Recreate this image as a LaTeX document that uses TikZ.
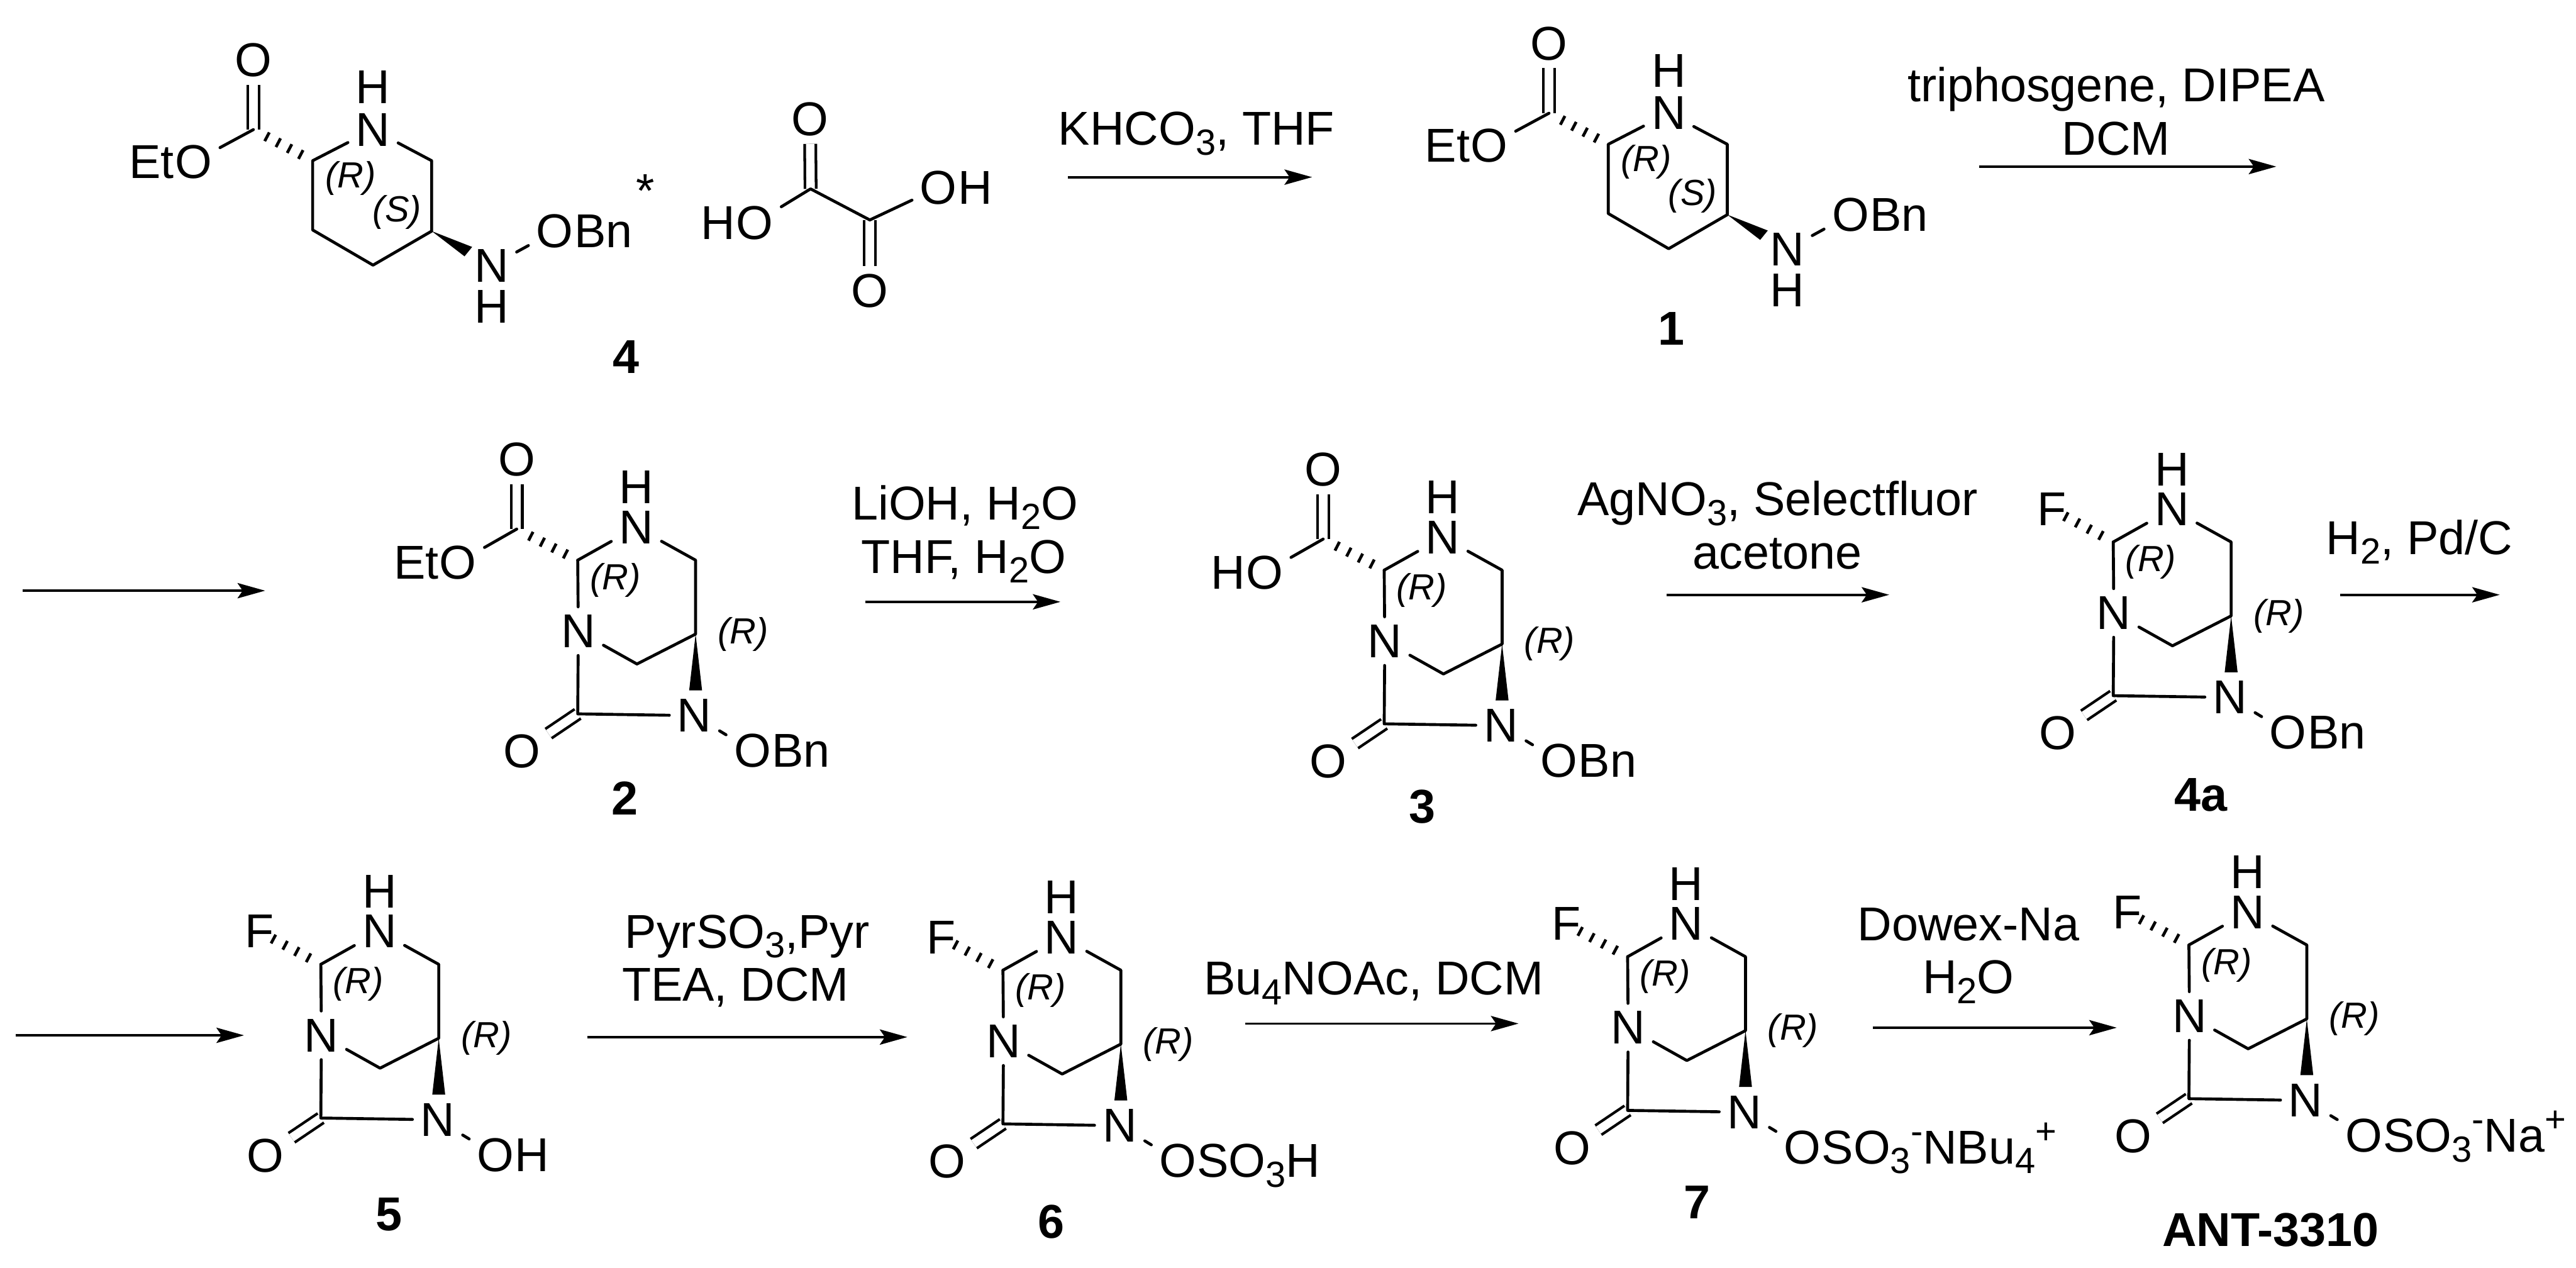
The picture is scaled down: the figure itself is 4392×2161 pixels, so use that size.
\documentclass[tikz,border=0pt]{standalone}
\usepackage{fontspec}
\setmainfont{Liberation Sans}
\usetikzlibrary{calc,arrows.meta}
\newcommand\subsc[1]{\raisebox{-4.2pt}{\fontsize{15.5}{16}\selectfont #1}}
\newcommand\supsc[1]{\raisebox{8.5pt}{\fontsize{15.5}{16}\selectfont #1}}
\tikzset{
  every node/.style={font=\fontsize{20.25}{24}\selectfont},
  atom/.style={inner sep=3.2pt},
  tailtext/.style={inner sep=0pt,anchor=base west,xshift=-3.2pt},
  headtext/.style={inner sep=0pt,anchor=base east,xshift=3.2pt},
  stereo/.style={inner sep=0pt,font=\fontsize{15.5}{18}\selectfont\itshape},
  cpd/.style={inner sep=0pt,font=\fontsize{20.25}{24}\selectfont\bfseries},
  reagent/.style={inner sep=0pt,anchor=base},
  bond/.style={line width=1.25pt,line join=round,line cap=round},
  dbond/.style={line width=1.15pt,double,double distance=3.6pt,line cap=butt},
  hashbar/.style={line width=1.25pt},
  rxn/.style={line width=1pt,-{Stealth[length=11.75pt,width=6.5pt,inset=2.2pt]}}
}
\newcommand\hashes[3]{% from, to, name prefix
  \foreach \f in {0.2,0.39,0.58,0.77}{
    \coordinate (hp) at ($(#1)!\f!(#2)$);
    \draw[hashbar] ($(hp)!2.1pt!90:(#2)$) -- ($(hp)!2.1pt!-90:(#2)$);
  }}
% bicyclic core: prefix, X, Y, text after the N-oxygen, substituent code
\newcommand\bicy[5]{
\begin{scope}[shift={(#2,#3)}]
  \node[atom] (#1-N4) at (0,0) {N};
  \node[atom] (#1-H) at (0,-68) {H};
  \coordinate (#1-Ca) at (-100,56);
  \coordinate (#1-Cb) at (101,56);
  \coordinate (#1-C5) at (101,182);
  \node[atom] (#1-N1) at (-99,177) {N};
  \coordinate (#1-Br) at (1,233);
  \coordinate (#1-CO) at (-100,318);
  \node[atom] (#1-N6) at (99,321) {N};
  \node[atom] (#1-Ok) at (-195,382) {O};
  \node[atom] (#1-O) at (198,381) {O};
  \node[tailtext] (#1-tail) at (#1-O.base east) {#4};
  \node[stereo] (#1-R1) at (-36,90) {(R)};
  \node[stereo] (#1-R2) at (182,182) {(R)};
  \draw[dbond] (#1-CO) -- (#1-Ok);
  \draw[bond] (#1-Ca) -- (#1-N4);
  \draw[bond] (#1-N4) -- (#1-Cb) -- (#1-C5) -- (#1-Br) -- (#1-N1);
  \draw[bond] (#1-Ca) -- (#1-N1);
  \draw[bond] (#1-N1) -- (#1-CO) -- (#1-N6);
  \draw[bond] (#1-N6) -- (#1-O);
  \coordinate (#1-wa) at (90,278);
  \coordinate (#1-wb) at (112,278);
  \fill (#1-C5) -- (#1-wa) -- (#1-wb) -- cycle;
  #5
\end{scope}}
\newcommand\esub[2]{
  \coordinate (#1-Ce) at (-204,3);
  \node[atom] (#1-Od) at (-204,-116) {O};
  \node[atom] (#1-Oe) at (-304,60) {O};
  \node[headtext] (#1-head) at (#1-Oe.base west) {#2};
  \draw[dbond] (#1-Ce) -- (#1-Od);
  \draw[bond] (#1-Ce) -- (#1-Oe);
  \hashes{#1-Ca}{#1-Ce}{#1}
}
\newcommand\fsub[1]{
  \node[atom] (#1-F) at (-205,0) {F};
  \hashes{#1-Ca}{#1-F}{#1}
}
% piperidine: prefix, dX, dY
\newcommand\pipe[3]{
\begin{scope}[shift={(#2,#3)}]
  \coordinate (#1-Ce) at (432,221);
  \node[atom] (#1-Od) at (432,102) {O};
  \node[atom] (#1-Oe) at (330,276) {O};
  \node[headtext] (#1-head) at (#1-Oe.base west) {Et};
  \coordinate (#1-Ca) at (533,274);
  \node[atom] (#1-N) at (636,221) {N};
  \node[atom] (#1-H) at (636,149) {H};
  \coordinate (#1-Cb) at (736,274);
  \coordinate (#1-C5) at (736,394);
  \coordinate (#1-C4) at (636,452);
  \coordinate (#1-C3) at (533,392);
  \node[atom] (#1-Nh) at (838,453) {N};
  \node[atom] (#1-Hh) at (838,523) {H};
  \node[atom] (#1-O) at (946,394) {O};
  \node[tailtext] (#1-tail) at (#1-O.base east) {Bn};
  \node[stereo] (#1-R) at (598,304) {(R)};
  \node[stereo] (#1-S) at (677,362) {(S)};
  \draw[dbond] (#1-Ce) -- (#1-Od);
  \draw[bond] (#1-Ce) -- (#1-Oe);
  \hashes{#1-Ca}{#1-Ce}{#1}
  \draw[bond] (#1-N) -- (#1-Ca) -- (#1-C3) -- (#1-C4) -- (#1-C5) -- (#1-Cb) -- (#1-N);
  \draw[bond] (#1-Nh) -- (#1-O);
  \coordinate (#1-wa) at (805,421);
  \coordinate (#1-wb) at (792,437);
  \fill (#1-C5) -- (#1-wa) -- (#1-wb) -- cycle;
\end{scope}}
\newcommand\arrowat[4]{
  \coordinate (#1-s) at (#2,#4);
  \coordinate (#1-e) at (#3,#4);
  \draw[rxn] (#1-s) -- (#1-e);
}
\begin{document}
\begin{tikzpicture}[x=0.25pt,y=-0.25pt]
\useasboundingbox (0,0) rectangle (4392,2161);
% top row
\pipe{a}{0}{0}
\node[cpd] (a-lab) at (1067,608) {4};
\node[inner sep=0pt] (star) at (1100,325) {*};
\coordinate (ox1) at (1382,322);
\coordinate (ox2) at (1483,375);
\node[atom] (oxa) at (1381,203) {O};
\node[atom] (oxb) at (1483,496) {O};
\node[atom] (oxc) at (1287,380) {O};
\node[headtext] (oxch) at (oxc.base west) {H};
\node[atom] (oxd) at (1600,320) {O};
\node[tailtext] (oxdh) at (oxd.base east) {H};
\draw[dbond] (ox1) -- (oxa);
\draw[dbond] (ox2) -- (oxb);
\draw[bond] (oxc) -- (ox1) -- (ox2) -- (oxd);
\pipe{b}{2209}{-28}
\node[cpd] (b-lab) at (2850,560) {1};
% bicyclics
\bicy{c}{1085}{899}{Bn}{\esub{c}{Et}}
\node[cpd] (c-lab) at (1065,1361) {2};
\bicy{d}{2460}{916}{Bn}{\esub{d}{H}}
\node[cpd] (d-lab) at (2425,1375) {3};
\bicy{e}{3703}{868}{Bn}{\fsub{e}}
\node[cpd] (e-lab) at (3752,1355) {4a};
\bicy{f}{647}{1588}{H}{\fsub{f}}
\node[cpd] (f-lab) at (663,2070) {5};
\bicy{g}{1810}{1598}{SO\subsc{3}H}{\fsub{g}}
\node[cpd] (g-lab) at (1792,2083) {6};
\bicy{h}{2875}{1575}{SO\subsc{3}\supsc{-}NBu\subsc{4}\supsc{+}}{\fsub{h}}
\node[cpd] (h-lab) at (2893,2050) {7};
\bicy{i}{3832}{1555}{SO\subsc{3}\supsc{-}Na\supsc{+}}{\fsub{i}}
\node[cpd] (i-lab) at (3871,2097) {ANT-3310};
% arrows
\arrowat{r1}{1821}{2237}{302}
\arrowat{r2}{3374}{3881}{284}
\arrowat{r3}{39}{452}{1007}
\arrowat{r4}{1475}{1808}{1026}
\arrowat{r5}{2842}{3221}{1014}
\arrowat{r6}{3990}{4262}{1014}
\arrowat{r7}{27}{416}{1765}
\arrowat{r8}{1001}{1547}{1768}
\arrowat{r9}{2123}{2589}{1745}
\arrowat{r10}{3193}{3609}{1752}
% reagents
\node[reagent] (t1) at (2040,247) {KHCO\subsc{3}, THF};
\node[reagent] (t2) at (3608,173) {triphosgene, DIPEA};
\node[reagent] (t3) at (3608,264) {DCM};
\node[reagent] (t4) at (1645,886) {LiOH, H\subsc{2}O};
\node[reagent] (t5) at (1643,977) {THF, H\subsc{2}O};
\node[reagent] (t6) at (3031,879) {AgNO\subsc{3}, Selectfluor};
\node[reagent] (t7) at (3030,970) {acetone};
\node[reagent] (t8) at (4125,945) {H\subsc{2}, Pd/C};
\node[reagent] (t9) at (1274,1616) {PyrSO\subsc{3},Pyr};
\node[reagent] (t10) at (1254,1707) {TEA, DCM};
\node[reagent] (t11) at (2342,1696) {Bu\subsc{4}NOAc, DCM};
\node[reagent] (t12) at (3356,1604) {Dowex-Na};
\node[reagent] (t13) at (3356,1694) {H\subsc{2}O};
\end{tikzpicture}
\end{document}
